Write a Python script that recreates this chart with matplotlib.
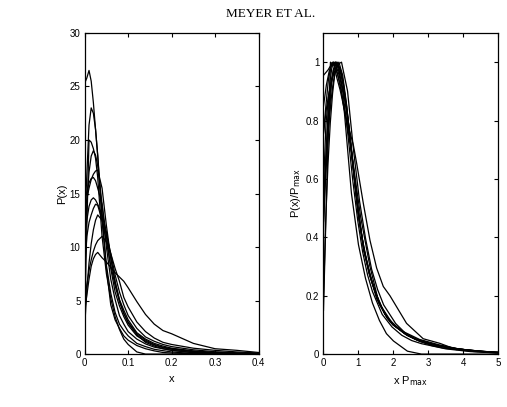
import numpy as np
import matplotlib
matplotlib.use('Agg')
import matplotlib.pyplot as plt

plt.rcParams['font.family'] = ['Liberation Sans', 'DejaVu Sans']

# common x grid of the left panel
x = [0, 0.005, 0.01, 0.015, 0.02, 0.025, 0.03, 0.04, 0.05, 0.06, 0.07, 0.08,
     0.09, 0.1, 0.12, 0.14, 0.16, 0.18, 0.2, 0.25, 0.3, 0.35, 0.4]

# P(x) curves
c1 = [25.3, 25.8, 26.5, 25.5, 23.5, 21, 18.5, 12.5, 8.0, 4.6, 3.2, 2.4, 1.7, 1.3, 0.8, 0.5, 0.3, 0.15, 0.1, 0.03, 0.0, 0.0, 0.0]
c2 = [12, 16.8, 21.4, 23, 22.5, 21, 18.6, 12.9, 8.3, 5.7, 3.9, 2.8, 2.2, 1.7, 1.0, 0.7, 0.45, 0.32, 0.2, 0.05, 0.02, 0.01, 0.0]
c3 = [3, 12, 20, 19.8, 19.2, 18.3, 16.5, 11, 7.5, 5.2, 3.5, 2.3, 1.4, 0.9, 0.2, 0.0, 0.0, 0.0, 0.0, 0.0, 0.0, 0.0, 0.0]
c4 = [13, 14.5, 15.5, 16.3, 16.8, 17.1, 17.2, 15.5, 12, 9, 6.8, 5.0, 3.8, 2.9, 1.8, 1.1, 0.75, 0.5, 0.35, 0.15, 0.05, 0.02, 0.0]
c5 = [11, 12.5, 13.8, 14.4, 14.6, 14.4, 14.0, 13, 11.4, 9.0, 6.7, 5.1, 4.1, 3.2, 2.0, 1.4, 1.0, 0.75, 0.55, 0.3, 0.15, 0.08, 0.03]
c6 = [8, 11, 12.3, 13, 13.6, 14, 13.9, 12.5, 10.5, 8.3, 6.4, 4.9, 3.8, 3.0, 1.9, 1.3, 0.9, 0.65, 0.5, 0.25, 0.12, 0.06, 0.02]
c7 = [5, 6.5, 7.8, 8.8, 9.6, 10.2, 10.6, 11, 10.5, 9.4, 8.0, 6.8, 5.3, 4.4, 3.0, 2.1, 1.5, 1.1, 0.9, 0.55, 0.35, 0.2, 0.1]
c8 = [4, 5.5, 7, 8.2, 8.9, 9.3, 9.5, 9.0, 8.6, 8.1, 7.6, 7.2, 6.8, 6.2, 4.9, 3.7, 2.8, 2.2, 1.9, 1.0, 0.5, 0.35, 0.15]
c9 = [14, 15.2, 16, 16.4, 16.5, 16.2, 15.5, 14, 11, 8, 5.8, 4.5, 3.5, 2.7, 1.7, 1.2, 0.85, 0.6, 0.45, 0.22, 0.1, 0.04, 0.01]
c10 = [2.5, 6, 8.5, 10.3, 11.6, 12.5, 13, 12.5, 11.2, 9.4, 7.4, 5.8, 4.6, 3.6, 2.4, 1.6, 1.2, 0.9, 0.7, 0.4, 0.22, 0.12, 0.05]
c11 = [10, 14, 17, 18.5, 19, 18.6, 17.6, 14, 10, 7, 5.1, 3.6, 2.8, 2.1, 1.4, 0.95, 0.65, 0.5, 0.35, 0.12, 0.05, 0.02, 0.0]

curvas = [c1, c2, c3, c4, c5, c6, c7, c8, c9, c10, c11]

fig = plt.figure(figsize=(5.07, 4.07), dpi=100)
fig.text(0.533, 0.965, 'MEYER ET AL.', ha='center', va='center',
         family='Liberation Serif', fontsize=9.5)

# painel esquerdo
ax1 = fig.add_axes([0.167, 0.130, 0.343, 0.789])
for c in curvas:
    ax1.plot(x, c, color='k', lw=0.9)
ax1.set_xlim(0, 0.4)
ax1.set_ylim(0, 30)
ax1.set_xticks([0, 0.1, 0.2, 0.3, 0.4])
ax1.set_xticklabels(['0', '0.1', '0.2', '0.3', '0.4'])
ax1.set_yticks([0, 5, 10, 15, 20, 25, 30])
ax1.set_xlabel('x', fontsize=8)
ax1.set_ylabel('P(x)', fontsize=8, labelpad=2)

# painel direito: curvas normalizadas
ax2 = fig.add_axes([0.638, 0.130, 0.345, 0.789])
xa = np.array(x)
for c in curvas:
    ca = np.array(c)
    pmax = ca.max()
    ax2.plot(xa * pmax, ca / pmax, color='k', lw=0.9)
ax2.set_xlim(0, 5)
ax2.set_ylim(0, 1.1)
ax2.set_xticks([0, 1, 2, 3, 4, 5])
ax2.set_yticks([0, 0.2, 0.4, 0.6, 0.8, 1])
ax2.set_yticklabels(['0', '0.2', '0.4', '0.6', '0.8', '1'])
ax2.set_xlabel('x P$_{\\mathrm{max}}$', fontsize=8)
ax2.set_ylabel('P(x)/P$_{\\mathrm{max}}$', fontsize=8, labelpad=2)

for ax in (ax1, ax2):
    ax.tick_params(direction='in', top=True, right=True, labelsize=7,
                   length=3, width=0.8, pad=3)
    for s in ax.spines.values():
        s.set_linewidth(0.9)

plt.savefig('out.png', dpi=100)
